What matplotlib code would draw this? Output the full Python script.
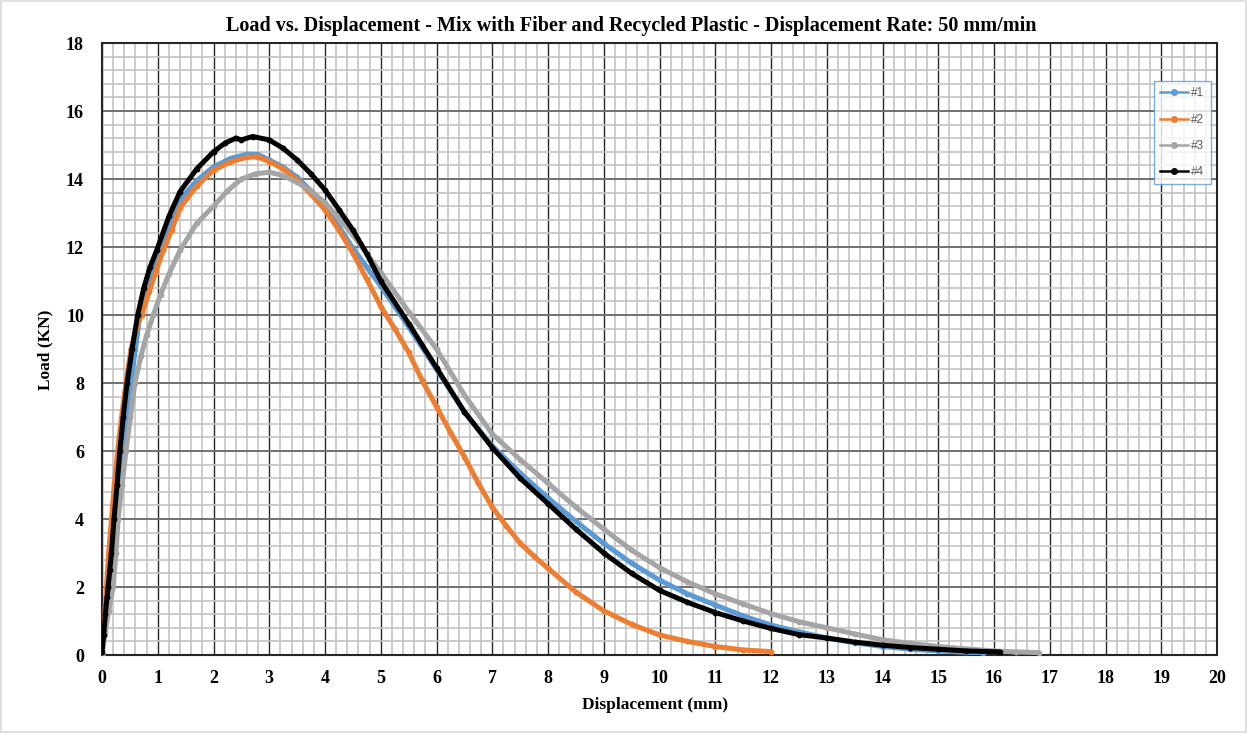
import matplotlib
matplotlib.use("Agg")
import matplotlib.pyplot as plt
from matplotlib.ticker import MultipleLocator
from matplotlib.patches import Rectangle

# Specimen #1
disp_1 = [0.0, 0.04, 0.08, 0.12, 0.17, 0.22, 0.30, 0.38, 0.45, 0.52, 0.60, 0.68, 0.80,
          0.92, 1.05, 1.2, 1.4, 1.7, 2.0, 2.3, 2.6, 2.8, 3.0, 3.25, 3.5, 3.75, 4.0, 4.25,
          4.5, 4.75, 5.0, 5.5, 6.0, 6.5, 7.0, 7.5, 8.0, 8.5, 9.0, 9.5, 10.0, 10.5, 11.0,
          11.5, 12.0, 12.5, 13.0, 13.5, 14.0, 14.5, 15.0, 15.5, 15.8]
load_1 = [0.0, 0.6, 1.3, 2.0, 3.0, 4.0, 5.0, 6.0, 7.0, 8.0, 9.0, 10.0, 10.8,
          11.4, 11.9, 12.6, 13.4, 13.95, 14.36, 14.6, 14.73, 14.72, 14.56, 14.35, 14.05,
          13.65, 13.2, 12.6, 11.97, 11.4, 10.85, 9.65, 8.4, 7.15, 6.15, 5.35, 4.62, 3.93,
          3.28, 2.7, 2.2, 1.8, 1.47, 1.15, 0.88, 0.68, 0.5, 0.36, 0.25, 0.17, 0.12, 0.08,
          0.05]

# Specimen #2
disp_2 = [0.0, 0.03, 0.06, 0.08, 0.12, 0.17, 0.22, 0.28, 0.35, 0.43, 0.52, 0.61, 0.71,
          0.85, 0.97, 1.1, 1.25, 1.4, 1.7, 2.0, 2.3, 2.6, 2.8, 3.0, 3.25, 3.5, 3.75, 4.0,
          4.25, 4.5, 4.75, 5.0, 5.25, 5.5, 5.75, 6.0, 6.25, 6.5, 6.75, 7.0, 7.25, 7.5,
          7.75, 8.0, 8.5, 9.0, 9.5, 10.0, 10.5, 11.0, 11.5, 12.0]
load_2 = [0.0, 0.7, 1.4, 2.0, 3.0, 4.0, 5.0, 6.0, 7.0, 8.0, 9.0, 9.6, 10.0,
          10.7, 11.3, 11.9, 12.5, 13.15, 13.8, 14.26, 14.5, 14.64, 14.65, 14.51, 14.3,
          13.97, 13.55, 13.09, 12.5, 11.82, 11.05, 10.25, 9.6, 8.9, 8.05, 7.3, 6.55,
          5.83, 5.05, 4.35, 3.8, 3.29, 2.9, 2.55, 1.85, 1.3, 0.9, 0.59, 0.4, 0.25, 0.15,
          0.1]

# Specimen #3
disp_3 = [0.0, 0.06, 0.12, 0.2, 0.25, 0.29, 0.36, 0.43, 0.51, 0.59, 0.70, 0.80, 0.92,
          1.05, 1.2, 1.4, 1.7, 2.0, 2.25, 2.5, 2.75, 3.0, 3.25, 3.5, 3.75, 4.0, 4.25, 4.5,
          4.75, 5.0, 5.5, 6.0, 6.5, 7.0, 7.5, 8.0, 8.5, 9.0, 9.5, 10.0, 10.5, 11.0, 11.5,
          12.0, 12.5, 13.0, 13.5, 14.0, 14.5, 15.0, 15.5, 16.0, 16.4, 16.8]
load_3 = [0.0, 0.7, 1.3, 2.0, 3.0, 4.0, 5.0, 6.0, 7.0, 8.0, 8.8, 9.4, 10.0,
          10.6, 11.2, 11.9, 12.7, 13.2, 13.65, 14.0, 14.15, 14.2, 14.1, 13.9, 13.65,
          13.3, 12.85, 12.35, 11.8, 11.25, 10.1, 9.0, 7.65, 6.5, 5.75, 5.05, 4.35, 3.7,
          3.08, 2.57, 2.15, 1.8, 1.5, 1.22, 0.98, 0.8, 0.62, 0.45, 0.34, 0.25, 0.18, 0.12,
          0.09, 0.07]

# Specimen #4
disp_4 = [0.0, 0.03, 0.06, 0.09, 0.11, 0.14, 0.17, 0.215, 0.27, 0.32, 0.38, 0.45, 0.54,
          0.64, 0.75, 0.86, 0.98, 1.2, 1.4, 1.7, 2.0, 2.2, 2.4, 2.5, 2.7, 3.0, 3.25, 3.5,
          3.75, 4.0, 4.25, 4.5, 4.75, 5.0, 5.5, 6.0, 6.5, 7.0, 7.5, 8.0, 8.5, 9.0, 9.5,
          10.0, 10.5, 11.0, 11.5, 12.0, 12.5, 13.0, 13.5, 14.0, 14.5, 15.0, 15.5, 16.1]
load_4 = [0.1, 0.6, 1.2, 1.7, 2.0, 2.5, 3.0, 4.0, 5.0, 6.0, 7.0, 8.0, 9.0,
          10.0, 10.8, 11.4, 11.9, 12.9, 13.63, 14.3, 14.8, 15.05, 15.2, 15.15, 15.25,
          15.15, 14.9, 14.56, 14.15, 13.68, 13.1, 12.5, 11.8, 11.0, 9.75, 8.45, 7.15, 6.1,
          5.2, 4.45, 3.7, 3.0, 2.4, 1.9, 1.55, 1.25, 1.0, 0.78, 0.6, 0.5, 0.38, 0.29, 0.22,
          0.17, 0.12, 0.09]

series_names = ["#1", "#2", "#3", "#4"]
series_colors = ["#5B9BD5", "#ED7D31", "#A5A5A5", "#000000"]

x_ticks = list(range(0, 21))
y_ticks = list(range(0, 19, 2))

serif = ["Liberation Serif", "DejaVu Serif"]

fig = plt.figure(figsize=(12.47, 7.33), dpi=100)
ax = fig.add_axes([102 / 1247, 1 - 655 / 733, (1217 - 102) / 1247, (655 - 43) / 733])

# light frame around the whole chart
fig.patches.append(Rectangle((0.001, 0.001), 0.998, 0.997, transform=fig.transFigure,
                             fill=False, edgecolor="#d9d9d9", linewidth=1.2))

ax.set_xlim(0, 20)
ax.set_ylim(0, 18)
ax.set_xticks(x_ticks)
ax.set_yticks(y_ticks)
ax.xaxis.set_minor_locator(MultipleLocator(0.2))
ax.yaxis.set_minor_locator(MultipleLocator(0.4))

ax.grid(which="minor", color="#c3c3c3", linewidth=1.2, zorder=0)
ax.grid(which="major", axis="x", color="#262626", linewidth=1.0, zorder=0.5)
ax.grid(which="major", axis="y", color="#707070", linewidth=1.4, zorder=0.5)
ax.set_axisbelow(True)

for s in ax.spines.values():
    s.set_color("#262626")
    s.set_linewidth(1.5)

ax.tick_params(which="both", length=0)
ax.tick_params(axis="x", pad=11)
ax.tick_params(axis="y", pad=13)
for lbl in ax.get_xticklabels() + ax.get_yticklabels():
    lbl.set_fontfamily(serif)
    lbl.set_fontweight("bold")
    lbl.set_fontsize(13)

curves = [(disp_1, load_1), (disp_2, load_2), (disp_3, load_3), (disp_4, load_4)]
for (xs, ys), name, col in zip(curves, series_names, series_colors):
    ax.plot(xs, ys, color=col, linewidth=3.6, marker="o", markersize=4.2,
            markeredgewidth=0, label=name, solid_capstyle="round",
            solid_joinstyle="round", zorder=3)

fig.text(631 / 1247, 1 - 26 / 733,
         "Load vs. Displacement - Mix with Fiber and Recycled Plastic - Displacement Rate: 50 mm/min",
         ha="center", va="center", fontfamily=serif, fontweight="bold", fontsize=14.5)
fig.text(655 / 1247, 1 - 705 / 733, "Displacement (mm)", ha="center", va="center",
         fontfamily=serif, fontweight="bold", fontsize=12.5)
fig.text(45 / 1247, 1 - 350 / 733, "Load (KN)", ha="center", va="center", rotation=90,
         fontfamily=serif, fontweight="bold", fontsize=12.5)

handles = [plt.Line2D([0], [0], color=c, linewidth=1.8, marker="o", markersize=4)
           for c in series_colors]
leg = ax.legend(handles, series_names, loc="upper left",
                bbox_to_anchor=(1154 / 1247, 1 - 81 / 733), bbox_transform=fig.transFigure,
                prop={"family": ["Liberation Sans", "DejaVu Sans"], "size": 8.5},
                labelcolor="#595959", frameon=True, fancybox=False, edgecolor="#5B9BD5",
                handlelength=2.3, handletextpad=0.3, labelspacing=1.2,
                borderpad=0.55, borderaxespad=0)
leg.get_frame().set_linewidth(1.0)

fig.savefig("out.png", dpi=100)
